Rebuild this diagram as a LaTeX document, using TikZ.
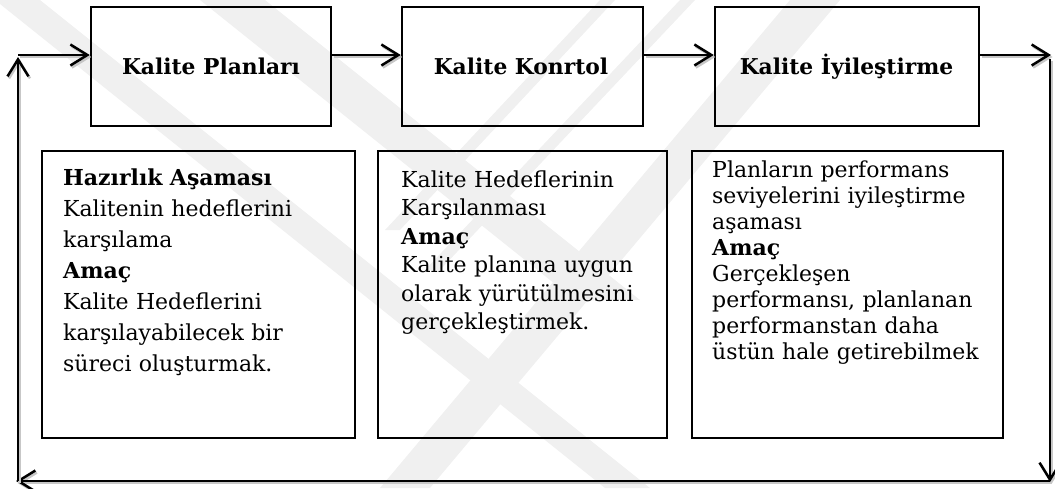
\documentclass[tikz,border=0pt]{standalone}
\usepackage{fontspec}
\setmainfont{DejaVu Serif}
\usetikzlibrary{arrows.meta}
\begin{document}
\begin{tikzpicture}[x=1pt,y=-1pt,
  wm/.style={fill=black!6, draw=none},
  topbox/.style={draw, line width=2.5pt, minimum height=119pt, inner sep=0pt},
  botbox/.style={draw, line width=2.5pt, minimum height=287pt, inner sep=0pt},
  title/.style={anchor=base, inner sep=0pt, font=\fontsize{21.8}{26}\selectfont\bfseries},
  body/.style={anchor=north west, inner sep=0pt, text width=300pt, align=left},
  conn/.style={line width=2.5pt, -{Straight Barb[length=17pt,width=21pt]},
    preaction={draw=black!22, line width=2.5pt, transform canvas={shift={(1.5pt,-2pt)}}}}
]
\useasboundingbox (0,0) rectangle (1055,488);
% watermark
\fill[wm] (-5,0) -- (40,0) -- (650,488) -- (605,488) -- cycle;
\fill[wm] (200,0) -- (265,0) -- (640,300) -- (575,300) -- cycle;
\fill[wm] (790,0) -- (840,0) -- (430,488) -- (380,488) -- cycle;
\fill[wm] (600,0) -- (615,0) -- (400,230) -- (385,230) -- cycle;
\fill[wm] (680,0) -- (695,0) -- (440,270) -- (425,270) -- cycle;
% top boxes
\node[topbox, minimum width=240pt] (p1) at (211,66.5) {};
\node[topbox, minimum width=241pt] (p2) at (522.5,66.5) {};
\node[topbox, minimum width=264pt] (p3) at (847,66.5) {};
\node[title] (t1) at (211,74) {Kalite Planları};
\node[title] (t2) at (521,74) {Kalite Konrtol};
\node[title] (t3) at (846.5,74) {Kalite İyileştirme};
% bottom boxes
\node[botbox, minimum width=313pt] (b1) at (198.5,294.5) {};
\node[botbox, minimum width=289pt] (b2) at (522.5,294.5) {};
\node[botbox, minimum width=311pt] (b3) at (847.5,294.5) {};
\node[body, font=\fontsize{22}{31}\selectfont] (x1) at (63,163.3) {\strut\textbf{Hazırlık Aşaması}\\Kalitenin hedeflerini\\karşılama\\\textbf{Amaç}\\Kalite Hedeflerini\\karşılayabilecek bir\\süreci oluşturmak.};
\node[body, font=\fontsize{22}{28.5}\selectfont] (x2) at (401,167) {\strut Kalite Hedeflerinin\\Karşılanması\\\textbf{Amaç}\\Kalite planına uygun\\olarak yürütülmesini\\gerçekleştirmek.};
\node[body, font=\fontsize{22}{26.1}\selectfont] (x3) at (712,158.7) {\strut Planların performans\\seviyelerini iyileştirme\\aşaması\\\textbf{Amaç}\\Gerçekleşen\\performansı, planlanan\\performanstan daha\\üstün hale getirebilmek};
% connectors
\coordinate (cin) at (18,55);
\coordinate (cout) at (1051,55);
\coordinate (crt) at (1050,59);
\coordinate (crb) at (1050,482);
\coordinate (cbr) at (1050,481);
\coordinate (cbl) at (16,481);
\coordinate (clb) at (18,481);
\coordinate (clt) at (18,57);
\draw[conn] (cin) -- (cin -| p1.west);
\draw[conn] (p1.east |- cin) -- (p2.west |- cin);
\draw[conn] (p2.east |- cin) -- (p3.west |- cin);
\draw[conn] (p3.east |- cin) -- (cout);
\draw[conn] (crt) -- (crb);
\draw[conn] (cbr) -- (cbl);
\draw[conn] (clb) -- (clt);
\end{tikzpicture}
\end{document}
